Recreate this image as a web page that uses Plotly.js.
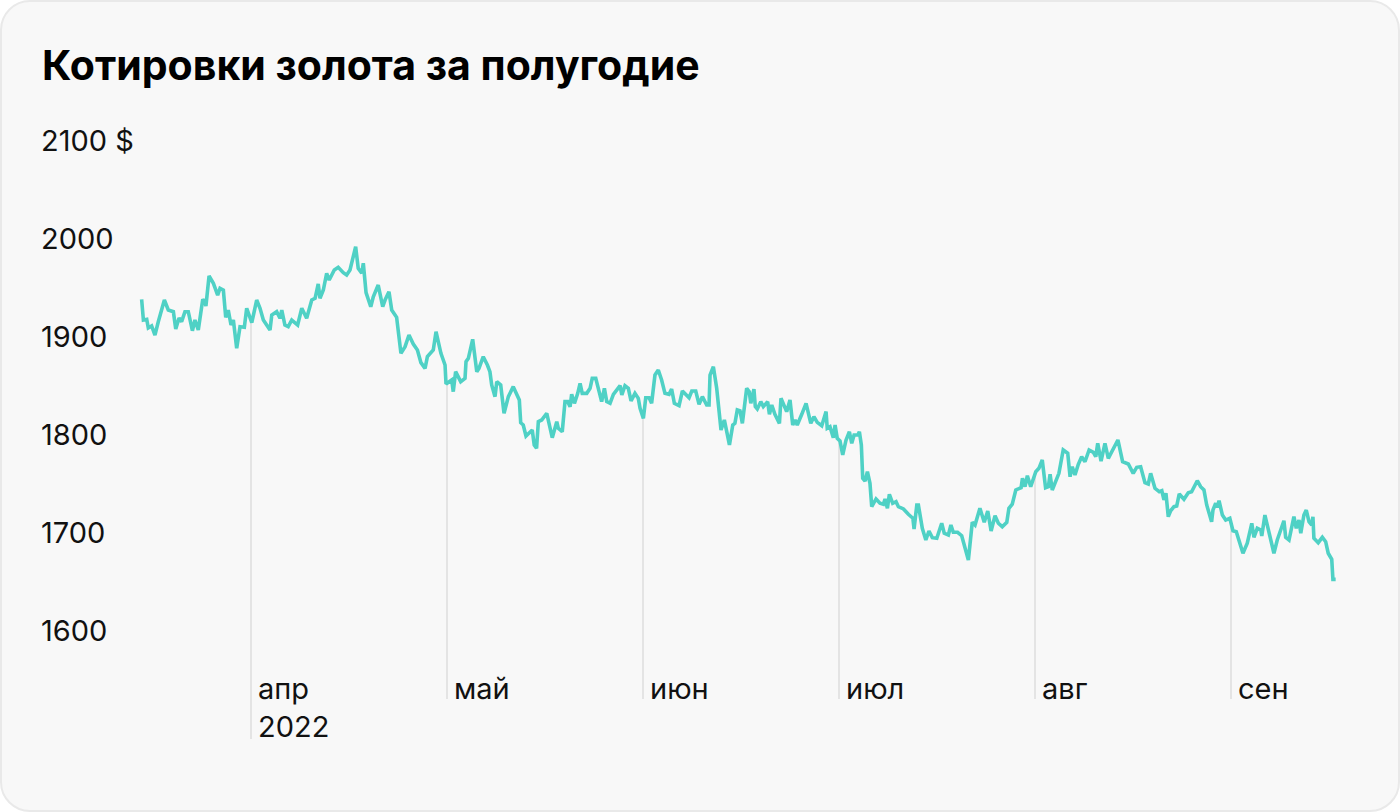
<!DOCTYPE html>
<html>
<head>
<meta charset="utf-8">
<script src="https://cdn.plot.ly/plotly-3.0.1.min.js"></script>
<style>
  html, body { margin: 0; padding: 0; background: #ffffff; }
  #card {
    position: absolute; left: 0; top: 0; width: 1396px; height: 808px;
    background: #f8f8f8; border: 2px solid #e9e9e9; border-radius: 30px; overflow: hidden;
  }
  #chart { position: absolute; left: -2px; top: -2px; width: 1400px; height: 812px; }
</style>
</head>
<body>
<div id="card"><div id="chart"></div></div>
<script>
// Position in months from 1 April 2022 (0 = апр, 1 = май, ...)
const monthPos = [
  -0.558,-0.549,-0.532,-0.524,-0.507,-0.490,-0.473,-0.442,-0.422,-0.396,-0.384,-0.367,-0.354,-0.337,-0.320,-0.299,-0.286,-0.269,-0.246,-0.235,
  -0.230,-0.214,-0.192,-0.170,-0.158,-0.141,-0.129,-0.116,-0.102,-0.090,-0.073,-0.056,-0.034,-0.022,0.004,0.029,0.046,0.063,0.097,0.106,
  0.131,0.148,0.157,0.173,0.190,0.208,0.238,0.259,0.284,0.310,0.327,0.343,0.352,0.369,0.386,0.399,0.425,0.445,0.471,0.488,
  0.505,0.519,0.534,0.547,0.565,0.573,0.587,0.611,0.624,0.649,0.672,0.684,0.704,0.718,0.743,0.765,0.786,0.806,0.828,0.849,
  0.867,0.888,0.900,0.930,0.944,0.969,0.990,0.995,1.024,1.032,1.044,1.070,1.092,1.097,1.109,1.131,1.152,1.163,1.185,1.206,
  1.219,1.228,1.245,1.254,1.274,1.291,1.313,1.338,1.369,1.376,1.389,1.403,1.419,1.435,1.445,1.457,1.466,1.483,1.509,1.520,
  1.537,1.560,1.568,1.588,1.602,1.616,1.628,1.636,1.650,1.667,1.679,1.690,1.713,1.730,1.741,1.759,1.776,1.789,1.803,1.815,
  1.832,1.849,1.883,1.892,1.908,1.925,1.939,1.959,1.976,1.985,2.002,2.014,2.031,2.044,2.061,2.078,2.095,2.112,2.133,2.146,
  2.160,2.184,2.201,2.214,2.235,2.249,2.269,2.286,2.303,2.325,2.337,2.342,2.359,2.376,2.390,2.398,2.415,2.441,2.458,2.469,
  2.481,2.495,2.507,2.515,2.529,2.542,2.550,2.566,2.573,2.583,2.601,2.614,2.636,2.645,2.657,2.673,2.696,2.704,2.724,2.733,
  2.750,2.764,2.776,2.787,2.810,2.832,2.856,2.872,2.889,2.912,2.934,2.940,2.954,2.971,2.980,2.991,3.005,3.019,3.036,3.053,
  3.065,3.077,3.096,3.104,3.114,3.121,3.133,3.145,3.158,3.167,3.189,3.209,3.226,3.235,3.247,3.257,3.274,3.291,3.303,3.329,
  3.354,3.377,3.383,3.397,3.405,3.425,3.443,3.459,3.476,3.499,3.524,3.537,3.558,3.571,3.583,3.605,3.626,3.639,3.660,3.680,
  3.694,3.719,3.741,3.759,3.776,3.796,3.813,3.833,3.856,3.867,3.884,3.902,3.929,3.936,3.949,3.961,3.978,4.004,4.020,4.037,
  4.054,4.068,4.077,4.088,4.111,4.122,4.144,4.167,4.179,4.190,4.204,4.221,4.238,4.255,4.276,4.298,4.310,4.320,4.337,4.357,
  4.374,4.395,4.408,4.423,4.447,4.476,4.501,4.519,4.539,4.561,4.578,4.590,4.612,4.634,4.647,4.658,4.668,4.680,4.692,4.709,
  4.723,4.736,4.760,4.782,4.799,4.828,4.845,4.862,4.876,4.889,4.901,4.908,4.922,4.930,4.939,4.956,4.973,4.994,5.010,5.027,
  5.045,5.061,5.083,5.106,5.117,5.134,5.152,5.157,5.173,5.185,5.198,5.219,5.236,5.259,5.270,5.279,5.296,5.321,5.333,5.347,
  5.356,5.372,5.384,5.398,5.412,5.418,5.423,5.445,5.466,5.483,5.496,5.514,5.520,5.534
];
// Gold price, $ per ounce
const price = [
  1937.4,1916.3,1917.0,1908.2,1910.2,1901.0,1914.6,1936.7,1926.5,1924.8,1907.1,1918.4,1914.6,1924.8,1924.8,1905.4,1916.3,1906.1,1937.4,1935.0,
  1930.6,1961.2,1953.8,1941.8,1948.7,1946.9,1919.1,1926.5,1911.2,1916.3,1887.4,1909.5,1908.9,1928.3,1913.6,1936.7,1928.3,1916.3,1906.1,1921.4,
  1924.8,1918.1,1926.5,1911.2,1909.5,1916.3,1911.2,1928.3,1918.1,1936.7,1938.5,1953.1,1938.5,1946.9,1964.0,1957.1,1967.3,1970.1,1964.6,1962.2,
  1967.3,1979.3,1991.1,1969.1,1964.0,1974.2,1944.2,1929.9,1940.1,1952.0,1929.9,1936.7,1945.2,1926.5,1919.1,1882.3,1889.1,1901.0,1891.8,1885.7,
  1872.8,1867.0,1878.9,1885.7,1904.4,1882.3,1870.4,1851.0,1855.1,1843.2,1863.6,1853.4,1856.8,1873.8,1877.2,1896.6,1863.6,1867.0,1878.9,1870.4,
  1863.6,1850.0,1838.1,1853.4,1850.0,1821.1,1838.1,1848.3,1834.7,1811.5,1809.2,1798.0,1801.3,1804.1,1788.8,1785.4,1812.6,1814.3,1821.1,1810.9,
  1796.2,1812.6,1805.8,1802.3,1833.0,1833.0,1827.9,1840.5,1831.3,1841.5,1851.7,1841.5,1841.5,1846.6,1856.8,1856.8,1843.2,1833.0,1846.6,1833.0,
  1831.3,1840.5,1849.3,1839.8,1849.3,1846.6,1833.7,1841.5,1836.4,1826.2,1816.0,1837.0,1837.0,1831.3,1860.2,1865.3,1855.1,1841.5,1840.5,1845.9,
  1831.3,1828.9,1843.9,1841.5,1837.0,1843.9,1843.9,1830.3,1838.1,1829.6,1829.6,1860.2,1868.7,1846.6,1814.3,1804.1,1814.3,1788.8,1809.2,1810.9,
  1824.5,1823.5,1810.9,1824.5,1846.6,1843.2,1831.3,1845.9,1827.9,1825.5,1833.0,1827.9,1833.0,1820.1,1829.6,1820.1,1810.9,1836.4,1825.5,1822.8,
  1834.7,1809.2,1814.3,1809.2,1820.1,1831.3,1810.9,1817.7,1811.9,1808.5,1822.8,1805.8,1807.4,1796.2,1809.2,1795.6,1792.9,1778.6,1793.9,1802.3,
  1790.5,1799.0,1799.0,1802.3,1788.8,1754.8,1752.0,1761.5,1749.7,1725.8,1733.7,1729.3,1728.3,1733.7,1724.2,1738.5,1729.3,1730.9,1725.8,1723.5,
  1718.1,1714.0,1703.1,1727.6,1727.6,1703.8,1691.8,1701.0,1694.2,1693.6,1708.9,1698.7,1696.9,1707.1,1699.7,1699.7,1696.2,1686.7,1671.4,1709.9,
  1707.1,1724.2,1709.9,1721.4,1701.0,1716.6,1708.9,1705.4,1709.9,1724.2,1728.3,1742.9,1745.2,1754.8,1746.2,1757.4,1746.2,1761.5,1765.0,1773.5,
  1745.2,1746.2,1758.9,1742.9,1753.1,1759.9,1783.7,1780.3,1756.4,1766.6,1758.2,1769.1,1776.8,1771.7,1783.7,1781.3,1776.8,1790.5,1772.4,1790.5,
  1775.2,1782.7,1788.8,1793.9,1771.7,1769.4,1759.9,1766.0,1766.6,1750.3,1749.0,1759.9,1744.6,1741.1,1742.1,1732.7,1739.5,1715.6,1721.7,1725.8,
  1726.5,1738.8,1733.4,1740.1,1741.1,1752.3,1746.2,1742.9,1727.6,1719.7,1710.5,1722.4,1729.3,1725.2,1731.9,1717.3,1712.2,1714.0,1701.3,1700.3,
  1690.1,1678.3,1688.5,1708.9,1694.6,1703.8,1702.0,1695.9,1717.3,1707.1,1693.6,1678.3,1691.8,1705.4,1711.5,1694.6,1691.8,1715.6,1703.8,1712.2,
  1698.7,1717.3,1722.4,1710.5,1707.1,1715.6,1693.6,1689.1,1694.6,1690.1,1678.3,1672.1,1651.7,1651.7
];
const monthTicks = [0, 1, 2, 3, 4, 5];
const monthLabels = ['апр<br>2022', 'май', 'июн', 'июл', 'авг', 'сен'];
const yTicks = [2100, 2000, 1900, 1800, 1700, 1600];
const yTickLabels = ['2100 $', '2000', '1900', '1800', '1700', '1600'];

const FONT = 'Inter, "Noto Sans", sans-serif';
const W = 1400, L = 42, R = 42;
const xPxPerMonth = 196, xZeroPx = 251;
const xRange = [(L - xZeroPx) / xPxPerMonth, (W - R - xZeroPx) / xPxPerMonth];
const yRange = [1482.65, 2100];

function valueAt(t) {
  for (let i = 0; i < monthPos.length - 1; i++) {
    if (monthPos[i] <= t && monthPos[i + 1] >= t) {
      const f = (t - monthPos[i]) / (monthPos[i + 1] - monthPos[i]);
      return price[i] + f * (price[i + 1] - price[i]);
    }
  }
  return price[0];
}

const shapes = monthTicks.map((m, i) => ({
  type: 'line', xref: 'x', yref: 'y', layer: 'below',
  x0: m, x1: m, y0: valueAt(m),
  y1: monthLabels[i].includes('<br>') ? 1488.8 : 1529.6,
  line: { color: '#dedede', width: 1.5 }
}));

const annotations = [];
monthTicks.forEach((m, i) => {
  annotations.push({
    x: m, y: 1560, xref: 'x', yref: 'y', xanchor: 'left', yanchor: 'top',
    xshift: 5, align: 'left', showarrow: false, text: monthLabels[i],
    font: { family: FONT, size: 29, color: '#111111' }
  });
});
yTicks.forEach((v, i) => {
  annotations.push({
    x: 0, y: v, xref: 'paper', yref: 'y', xanchor: 'left', yanchor: 'middle',
    xshift: -3, showarrow: false, text: yTickLabels[i],
    font: { family: FONT, size: 29, color: '#111111' }
  });
});

const trace = {
  x: monthPos, y: price, type: 'scatter', mode: 'lines',
  line: { color: '#4fd1c5', width: 3.6 }, hoverinfo: 'skip'
};

const layout = {
  width: 1400, height: 812,
  margin: { l: L, r: R, t: 140, b: 67, pad: 0 },
  paper_bgcolor: 'rgba(0,0,0,0)', plot_bgcolor: 'rgba(0,0,0,0)',
  showlegend: false,
  title: {
    text: 'Котировки золота за полугодие',
    font: { family: FONT, size: 41, weight: 700, color: '#000000' },
    x: L / W, xanchor: 'left', xref: 'container',
    y: 1 - 66 / 812, yanchor: 'middle', yref: 'container'
  },
  xaxis: { range: xRange, showgrid: false, zeroline: false, showticklabels: false, showline: false, ticks: '', fixedrange: true },
  yaxis: { range: yRange, showgrid: false, zeroline: false, showticklabels: false, showline: false, ticks: '', fixedrange: true },
  shapes: shapes,
  annotations: annotations
};

Plotly.newPlot('chart', [trace], layout, { displayModeBar: false, staticPlot: true });
</script>
</body>
</html>
